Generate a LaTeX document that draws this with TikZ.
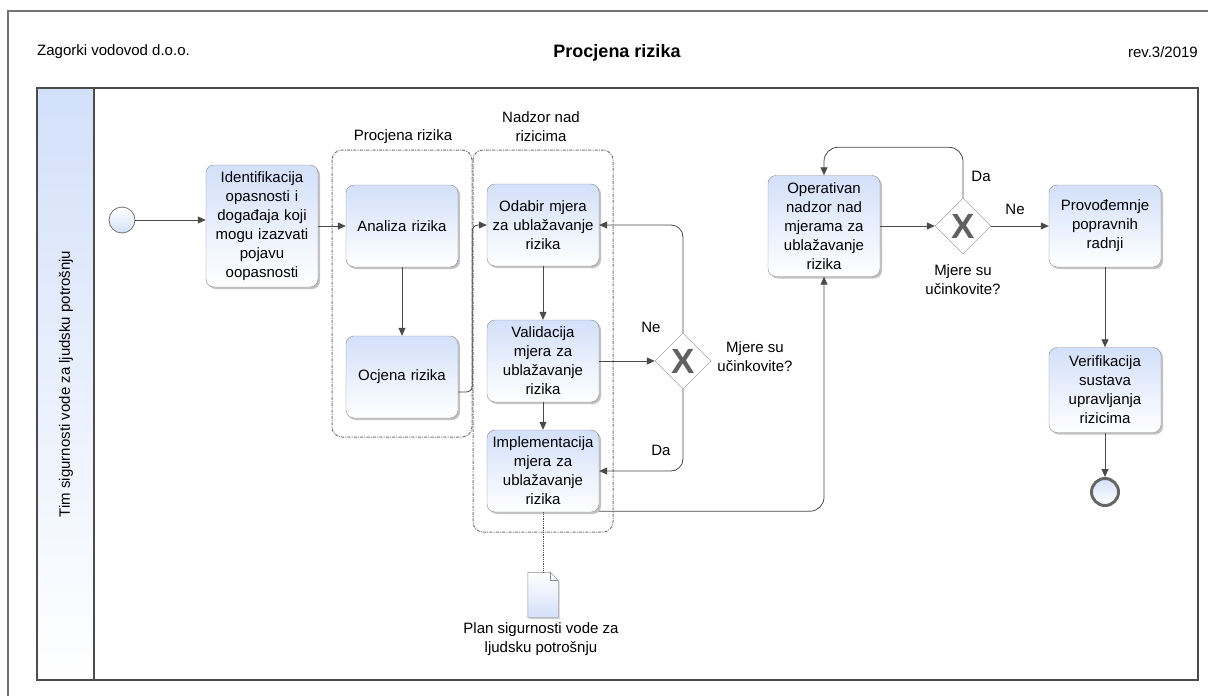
\documentclass[tikz,border=0pt]{standalone}
\usepackage{fontspec}
\setmainfont{Liberation Sans}
\usetikzlibrary{arrows.meta,shapes.geometric,shadows}
\definecolor{taskblue}{HTML}{D3E0FA}
\definecolor{lineg}{HTML}{4A4A4A}
\definecolor{boxg}{HTML}{8C8C8C}
\begin{document}
\begin{tikzpicture}[x=1pt,y=-1pt,
    font=\fontsize{15}{19}\selectfont,
    task/.style={draw=boxg,rounded corners=8pt,top color=taskblue,bottom color=white,
        minimum width=112pt,minimum height=82pt,text width=106pt,align=center,inner sep=2pt,
        drop shadow={shadow xshift=2pt,shadow yshift=-2pt,fill=black!40,opacity=0.6}},
    flow/.style={draw=lineg,line width=0.8pt,-{Triangle[length=8pt,width=7pt]}},
    gateway/.style={diamond,draw=boxg,fill=white,minimum size=56pt,inner sep=0pt,
        text=black!62,font=\fontsize{35}{35}\selectfont\bfseries},
    grp/.style={draw=black!55,line width=1pt,rounded corners=10pt,
        dash pattern=on 3pt off 1.2pt on 1pt off 1.2pt},
    startev/.style={circle,draw=black!55,line width=0.8pt,minimum size=26pt,inner sep=0pt,
        top color=white,bottom color=taskblue},
    endev/.style={circle,draw=black!60,line width=3pt,minimum size=27pt,inner sep=0pt,
        top color=taskblue,bottom color=white}]
    \useasboundingbox (0,0) rectangle (1208,696);
    % page frame and header
    \draw[black!55,line width=1.2pt] (8,696) -- (8,11) -- (1208,11);
    \node[anchor=west,inner sep=0pt] (org) at (37,52) {Zagorki vodovod d.o.o.};
    \node[font=\fontsize{18}{22}\selectfont\bfseries] (title) at (617,53) {Procjena rizika};
    \node[anchor=east,inner sep=0pt] (rev) at (1198,52) {rev.3/2019};
    % pool and lane
    \path[top color=taskblue,bottom color=white] (37,88) rectangle (94,680);
    \draw[black!70,line width=1.2pt] (37,88) rectangle (1198,680);
    \draw[black!70,line width=1.2pt] (94,88) -- (94,680);
    \node[rotate=90] (lane) at (66,384) {Tim sigurnosti vode za ljudsku potrošnju};
    % groups
    \draw[grp] (332,150) rectangle (472,437);
    \draw[grp] (473,150) rectangle (613,532);
    \node (grpA) at (403,137) {Procjena rizika};
    \node[align=center] (grpB) at (541,127) {Nadzor nad\\rizicima};
    % events and tasks
    \node[startev] (start) at (122,220) {};
    \node[task,minimum height=122pt] (ident) at (262,226) {Identifikacija\\opasnosti i\\događaja koji\\mogu izazvati\\pojavu\\oopasnosti};
    \node[task] (anal) at (402,226) {Analiza rizika};
    \node[task] (ocj) at (402,377) {Ocjena rizika};
    \node[task] (odab) at (543,225) {Odabir mjera\\za ublažavanje\\rizika};
    \node[task] (valid) at (543,361) {Validacija\\mjera za\\ublažavanje\\rizika};
    \node[task] (impl) at (543,471) {Implementacija\\mjera za\\ublažavanje\\rizika};
    \node[task,minimum height=101pt] (oper) at (824,226) {Operativan\\nadzor nad\\mjerama za\\ublažavanje\\rizika};
    \node[task] (prov) at (1105,226) {Provođemnje\\popravnih\\radnji};
    \node[task,minimum height=85pt] (verif) at (1105,390) {Verifikacija\\sustava\\upravljanja\\rizicima};
    \node[endev] (end) at (1105,492) {};
    % gateways
    \node[gateway] (gw1) at (683,361) {X};
    \node[align=center] (gw1lbl) at (755,357) {Mjere su\\učinkovite?};
    \node[gateway] (gw2) at (963,226) {X};
    \node[align=center] (gw2lbl) at (963,280) {Mjere su\\učinkovite?};
    \node (ne1) at (651,327) {Ne};
    \node (da1) at (661,450) {Da};
    \node (da2) at (981,176) {Da};
    \node (ne2) at (1015,209) {Ne};
    % document
    \node[minimum width=30pt,minimum height=45pt,inner sep=0pt] (doc) at (543,595) {};
    \draw[boxg,top color=white,bottom color=taskblue,drop shadow={shadow xshift=1.5pt,shadow yshift=-1.5pt,fill=black!40,opacity=0.5}]
        (doc.north west) -- ([xshift=-8pt]doc.north east) -- ([yshift=-8pt]doc.north east)
        -- (doc.south east) -- (doc.south west) -- cycle;
    \draw[boxg] ([xshift=-8pt]doc.north east) -- ([xshift=-8pt,yshift=-8pt]doc.north east) -- ([yshift=-8pt]doc.north east);
    \node[align=center] (doclbl) at (541,639) {Plan sigurnosti vode za\\ljudsku potrošnju};
    % flows
    \draw[flow] (start.east) -- (start.east -| ident.west);
    \draw[flow] (ident.east) -- (anal.west);
    \draw[flow] (anal.south) -- (ocj.north);
    \draw[flow,rounded corners=6pt] ([yshift=-15pt]ocj.east) -- ++(14,0) |- (odab.west);
    \draw[flow] (odab.south) -- (valid.north);
    \draw[flow] (valid.south) -- (impl.north);
    \draw[flow] (valid.east) -- (gw1.west);
    \draw[flow,rounded corners=12pt] (gw1.north) |- (odab.east);
    \draw[flow,rounded corners=12pt] (gw1.south) |- (impl.east);
    \draw[flow,rounded corners=14pt] ([yshift=1pt]impl.south east) -| (oper.south);
    \draw[flow] (oper.east) -- (gw2.west);
    \draw[flow,rounded corners=14pt] (gw2.north) |- ([yshift=28pt]oper.north) -- (oper.north);
    \draw[flow] (gw2.east) -- (prov.west);
    \draw[flow] (prov.south) -- (verif.north);
    \draw[flow] (verif.south) -- (end.north);
    \draw[lineg,line width=0.8pt,densely dotted] (impl.south) -- (doc.north);
\end{tikzpicture}
\end{document}
